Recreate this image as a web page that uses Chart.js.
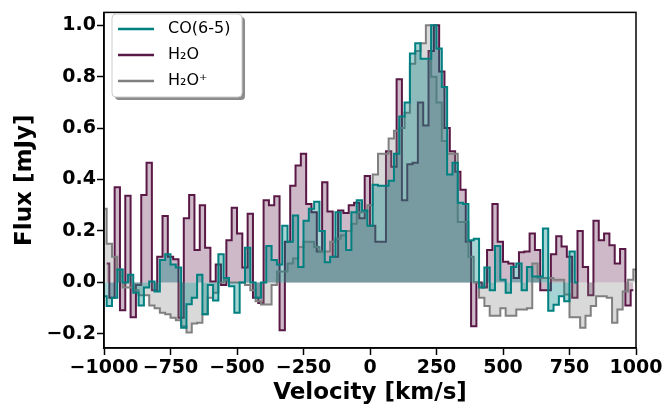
<!DOCTYPE html>
<html>
<head>
<meta charset="utf-8">
<script src="https://cdn.jsdelivr.net/npm/chart.js@4.4.1/dist/chart.umd.min.js"></script>
<style>
  html, body { margin: 0; padding: 0; background: #fff; }
  #wrap { width: 666px; height: 412px; }
</style>
</head>
<body>
<div id="wrap"><canvas id="spec" width="666" height="412"></canvas></div>
<script>
// channel width and first channel centre (km/s) of each spectrum
const CHAN = 20;
const CO_V0 = -1000;
const H2O_V0 = -990;
const H2OP_V0 = -1000;

// normalised flux per channel
const CO_FLUX = [
  -0.054, -0.092, -0.06, 0.05, 0.0, 0.03, -0.04, -0.09, -0.02, 0.004,
  -0.035, 0.087, 0.11, 0.07, 0.058, -0.176, -0.085, -0.06, 0.03, -0.124,
  -0.01, -0.07, 0.11, 0.017, -0.015, -0.118, 0.0, 0.135, 0.0, -0.06,
  0.0, 0.142, 0.087, 0.07, 0.22, 0.158, 0.26, 0.06, 0.24, 0.286,
  0.314, 0.2, 0.078, 0.1, 0.273, 0.2, 0.126, 0.273, 0.32, 0.28,
  0.22, 0.38, 0.376, 0.376, 0.395, 0.5, 0.645, 0.70, 0.89, 0.93,
  0.87, 0.87, 1.0, 0.91, 0.76, 0.42, 0.465, 0.31, 0.305, 0.164,
  0.17, -0.02, 0.058, -0.03, 0.142, 0.01, -0.04, 0.06, 0.074, -0.03,
  0.06, 0.023, 0.023, 0.21, -0.11, -0.087, -0.054, -0.073, 0.12, 0.0
];
const H2O_FLUX = [
  0.074, -0.06, 0.37, -0.108, 0.337, -0.135, -0.01, 0.34, 0.465, -0.03,
  0.1, 0.258, 0.1, 0.09, -0.137, 0.25, 0.34, 0.126, 0.30, 0.135,
  0.004, 0.07, -0.01, 0.164, 0.29, 0.19, 0.058, 0.267, -0.06, -0.08,
  0.32, 0.30, 0.335, -0.186, 0.158, 0.376, 0.455, 0.50, 0.305, 0.273,
  0.12, 0.39, 0.276, 0.10, 0.28, 0.27, 0.30, 0.31, 0.25, 0.414,
  0.22, 0.158, 0.158, 0.51, 0.45, 0.79, 0.32, 0.46, 0.465, 0.70,
  0.61, 0.9, 1.0, 0.82, 0.6, 0.51, 0.43, 0.36, 0.158, -0.17,
  0.0, -0.02, 0.126, 0.305, 0.158, 0.08, 0.074, 0.017, 0.117, 0.12,
  0.19, 0.126, -0.03, -0.03, 0.11, 0.18, 0.14, 0.1, -0.06, 0.2,
  0.06, -0.05, 0.24, 0.164, 0.19, 0.145, 0.074, 0.13, -0.09, -0.03
];
const H2OP_FLUX = [
  0.286, 0.15, 0.1, 0.05, -0.02, -0.02, -0.03, -0.05, -0.05, -0.09,
  -0.1, -0.118, -0.124, -0.137, -0.147, -0.17, -0.195, -0.16, -0.157, -0.124,
  -0.06, -0.04, 0.0, 0.01, 0.0, 0.0, 0.0, -0.01, -0.03, -0.073,
  -0.086, -0.086, -0.01, 0.042, 0.042, 0.074, 0.093, 0.138, 0.158, 0.158,
  0.138, 0.12, 0.12, 0.158, 0.17, 0.183, 0.2, 0.228, 0.273, 0.273,
  0.3, 0.42, 0.5, 0.5, 0.56, 0.59, 0.6, 0.66, 0.85, 0.9,
  0.93, 1.0, 0.8, 0.7, 0.55, 0.5, 0.5, 0.235, 0.235, 0.1,
  0.0, -0.06, -0.092, -0.13, -0.13, -0.1, -0.13, -0.13, -0.105, -0.105,
  -0.1, 0.074, 0.017, 0.017, 0.017, 0.01, 0.01, -0.047, -0.135, -0.135,
  -0.176, -0.13, -0.092, -0.054, -0.054, -0.06, -0.157, -0.105, -0.035, 0.01,
  0.05
];

const X_TICKS = [-1000, -750, -500, -250, 0, 250, 500, 750, 1000];
const Y_TICKS = [-0.2, 0.0, 0.2, 0.4, 0.6, 0.8, 1.0];
const LABELS = ['CO(6-5)', 'H\u2082O', 'H\u2082O\u207A'];

const TEAL = '#008080';
const PLUM = '#5a1846';
const GREY = '#808080';

const minus = s => String(s).replace('-', '\u2212');
const toPoints = (v0, arr) => arr.map((y, i) => ({ x: v0 + i * CHAN, y: y }));

// top/right spines
const frame = {
  id: 'frame',
  afterDatasetsDraw(chart) {
    const a = chart.chartArea, c = chart.ctx;
    c.save();
    c.strokeStyle = '#000';
    c.lineWidth = 1.5;
    c.strokeRect(a.left, a.top, a.right - a.left, a.bottom - a.top);
    c.restore();
  }
};

// matplotlib-like legend with shadow, inside the axes
const boxLegend = {
  id: 'boxLegend',
  afterDraw(chart) {
    const c = chart.ctx;
    const x = 112, y = 14, w = 130, h = 83, r = 4;
    const colors = [TEAL, PLUM, GREY];
    c.save();
    c.fillStyle = 'rgba(0,0,0,0.45)';
    c.beginPath(); c.roundRect(x + 3, y + 3, w, h, r); c.fill();
    c.fillStyle = '#fff';
    c.strokeStyle = '#cccccc';
    c.lineWidth = 1;
    c.beginPath(); c.roundRect(x, y, w, h, r); c.fill(); c.stroke();
    c.font = '16px "DejaVu Sans"';
    c.textBaseline = 'middle';
    LABELS.forEach((t, i) => {
      const yy = y + 15 + i * 26;
      c.strokeStyle = colors[i];
      c.lineWidth = 2.5;
      c.beginPath(); c.moveTo(x + 6, yy); c.lineTo(x + 42, yy); c.stroke();
      c.fillStyle = '#000';
      c.fillText(t, x + 56, yy);
    });
    c.restore();
  }
};

const common = { fill: 'origin', stepped: 'middle', borderWidth: 2, pointRadius: 0 };
const tickFont = { family: 'DejaVu Sans', size: 19, weight: 'bold' };
const titleFont = { family: 'DejaVu Sans', size: 23, weight: 'bold' };

new Chart(document.getElementById('spec').getContext('2d'), {
  type: 'line',
  data: {
    datasets: [
      { ...common, label: LABELS[0], data: toPoints(CO_V0, CO_FLUX), borderColor: TEAL, backgroundColor: 'rgba(0,128,128,0.35)', order: 0 },
      { ...common, label: LABELS[1], data: toPoints(H2O_V0, H2O_FLUX), borderColor: PLUM, backgroundColor: 'rgba(90,24,70,0.3)', order: 2 },
      { ...common, label: LABELS[2], data: toPoints(H2OP_V0, H2OP_FLUX), borderColor: GREY, backgroundColor: 'rgba(128,128,128,0.3)', order: 1 }
    ]
  },
  options: {
    responsive: false,
    animation: false,
    layout: { padding: { top: 8, right: 30, left: 0, bottom: 0 } },
    plugins: { legend: { display: false }, tooltip: { enabled: false } },
    scales: {
      x: {
        type: 'linear', min: -1000, max: 1000,
        afterBuildTicks: ax => { ax.ticks = X_TICKS.map(v => ({ value: v })); },
        afterFit: s => { s.height = 64; },
        ticks: { autoSkip: false, maxRotation: 0, color: '#000', font: tickFont, padding: 2, callback: v => minus(v) },
        grid: { drawOnChartArea: false, drawTicks: true, tickLength: 7, tickWidth: 1.5, tickColor: '#000' },
        border: { display: true, color: '#000', width: 1.5 },
        title: { display: true, text: 'Velocity [km/s]', color: '#000', font: titleFont, padding: { top: 0, bottom: 5 } }
      },
      y: {
        type: 'linear', min: -0.255, max: 1.05,
        afterBuildTicks: ax => { ax.ticks = Y_TICKS.map(v => ({ value: v })); },
        afterFit: s => { s.width = 104; },
        ticks: { color: '#000', font: tickFont, padding: 1, callback: v => minus(v.toFixed(1)) },
        grid: { drawOnChartArea: false, drawTicks: true, tickLength: 7, tickWidth: 1.5, tickColor: '#000' },
        border: { display: true, color: '#000', width: 1.5 },
        title: { display: true, text: 'Flux [mJy]', color: '#000', font: titleFont, padding: { top: 11, bottom: 4 } }
      }
    }
  },
  plugins: [frame, boxLegend]
});
</script>
</body>
</html>
